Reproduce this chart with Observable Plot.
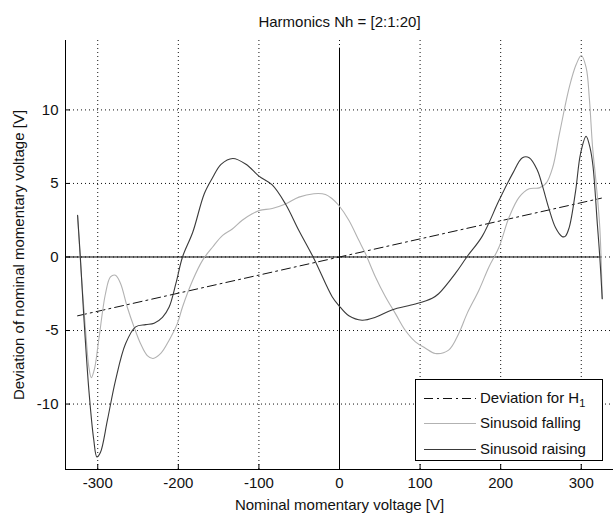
<!DOCTYPE html>
<html>
<head>
<meta charset="utf-8">
<script src="https://cdn.jsdelivr.net/npm/d3@7"></script>
<script src="https://cdn.jsdelivr.net/npm/@observablehq/plot@0.6"></script>
<style>
  body { margin: 0; background: #fff; }
  #wrap { position: relative; width: 613px; height: 515px; font-family: "Liberation Sans", Arial, sans-serif; color: #111; }
  #legend { position: absolute; left: 415px; top: 379px; width: 188px; height: 82px; border: 1px solid #000; background: #fff; box-sizing: border-box; }
  .row { position: absolute; left: 0; height: 20px; width: 186px; }
  .row svg { position: absolute; left: 7px; top: 0; }
  .row span { position: absolute; left: 64px; top: 1px; font-size: 15px; line-height: 18px; white-space: nowrap; }
  .row sub { font-size: 11px; vertical-align: -4px; line-height: 0; }
</style>
</head>
<body>
<div id="wrap"></div>
<script>
// ---- texts ----
const title = "Harmonics Nh = [2:1:20]";
const xLabel = "Nominal momentary voltage [V]";
const yLabel = "Deviation of nominal momentary voltage [V]";
const legendNames = ["Deviation for H", "Sinusoid falling", "Sinusoid raising"];
const legendSub = ["1", "", ""];

// ---- axes ----
const xTicks = [-300, -200, -100, 0, 100, 200, 300];
const yTicks = [-10, -5, 0, 5, 10];
const xDomain = [-340, 340];
const yDomain = [-14.45, 14.72];

// ---- reference lines ----
const zeroLineX = [-340, 325];   // horizontal zero line extent (V)
const zeroLineY = [-14.45, 14.2]; // vertical zero line extent (V)

// ---- series: deviation for H1 ----
const h1V   = [-325, 325];
const h1Dev = [-4.0, 4.0];

// ---- series: sinusoid falling ----
const fallingV = [-325, -320, -314.5, -311, -308, -304, -298.8, -290.4, -284.2, -278, -271.7, -263.4, -255, -246.8, -238.5, -231.4, -221.8, -211.4, -201, -194.8, -182.3, -170, -157.4, -145, -133, -120.7, -108.3, -99, -83.5, -67, -50.4, -31.8, -17.4, -9.1, -0.8, 11.6, 24, 32.2, 44.6, 57, 69.4, 81.8, 94.2, 106.6, 118.8, 135.4, 148, 158.3, 173, 185.4, 198, 210.4, 223, 235.4, 248, 256.3, 264.6, 273, 285.4, 293.8, 300, 306, 310, 314, 318.5, 323, 326];
const fallingDev = [2.8, -1.5, -5.4, -7.5, -8.2, -7.6, -5.66, -2.5, -1.36, -1.24, -1.8, -3.4, -4.75, -5.9, -6.7, -6.9, -6.56, -5.66, -4.5, -3.4, -1.6, -0.23, 0.68, 1.47, 1.9, 2.5, 2.94, 3.17, 3.3, 3.6, 4.07, 4.3, 4.25, 3.96, 3.5, 2.5, 1.13, 0.23, -1.36, -2.7, -3.85, -5.0, -5.77, -6.2, -6.56, -6.33, -5.2, -3.85, -2.26, -0.68, 0.68, 2.7, 4.07, 4.64, 4.7, 5.0, 6.1, 8.4, 11.6, 13.1, 13.7, 12.9, 10.8, 7.5, 5.0, 2.0, -2.83];

// ---- series: sinusoid raising ----
const raisingV = [-325, -321.6, -317.5, -311, -305, -301, -296.7, -288, -278, -265.5, -253, -240.5, -230, -219.7, -211.4, -203, -194.8, -182, -167.8, -157.4, -147, -132.4, -116, -100, -83.5, -67, -50.4, -31.8, -9.1, -0.8, 11.6, 28, 44.6, 65, 94, 115, 123, 144, 158, 177, 198, 214.6, 227, 235.4, 245.5, 252, 259.8, 268, 276, 280, 285, 293, 299, 306, 311, 314.5, 320, 323, 326];
const raisingDev = [2.83, 0, -3.85, -9.05, -12.4, -13.6, -13.3, -11.1, -8.4, -5.9, -4.75, -4.6, -4.5, -4.1, -3.4, -1.8, 0, 1.7, 4.3, 5.4, 6.3, 6.7, 6.3, 5.5, 4.9, 3.6, 1.8, -0.1, -2.7, -3.3, -4.0, -4.3, -4.1, -3.6, -3.2, -2.8, -2.5, -1.1, 0, 1.4, 3.85, 5.65, 6.75, 6.75, 5.9, 4.8, 3.3, 2.0, 1.4, 1.4, 2.0, 4.5, 7.0, 8.2, 7.4, 6.2, 2.2, 0, -2.83];

const toRows = (xs, ys) => xs.map((x, i) => ({x, y: ys[i]}));
const h1 = toRows(h1V, h1Dev);
const falling = toRows(fallingV, fallingDev);
const raising = toRows(raisingV, raisingDev);

const W = 613, H = 515;
const mL = 65, mR = 0, mT = 40, mB = 46;
const frameW = W - mL - mR, frameH = H - mT - mB;
const tickLen = 5;
const font = "Liberation Sans, Arial, sans-serif";
const dot = "1,3";
const dashDot = "9,4,2,4";

const chart = Plot.plot({
  width: W,
  height: H,
  marginLeft: mL,
  marginRight: mR,
  marginTop: mT,
  marginBottom: mB,
  style: {fontFamily: font, fontSize: "15px", color: "#111", background: "#fff", overflow: "visible"},
  x: {domain: xDomain},
  y: {domain: yDomain},
  marks: [
    // dotted grid
    Plot.ruleX(xTicks, {stroke: "#111", strokeDasharray: dot, strokeWidth: 1}),
    Plot.ruleY(yTicks, {stroke: "#111", strokeDasharray: dot, strokeWidth: 1}),
    // zero reference lines
    Plot.ruleY([0], {x1: zeroLineX[0], x2: zeroLineX[1], stroke: "#000", strokeWidth: 1}),
    Plot.ruleX([0], {y1: zeroLineY[0], y2: zeroLineY[1], stroke: "#000", strokeWidth: 1}),
    // series
    Plot.line(h1, {x: "x", y: "y", stroke: "#111", strokeWidth: 1, strokeDasharray: dashDot}),
    Plot.line(falling, {x: "x", y: "y", stroke: "#b2b2b2", strokeWidth: 1.1, curve: "catmull-rom"}),
    Plot.line(raising, {x: "x", y: "y", stroke: "#3a3a3a", strokeWidth: 1.1, curve: "catmull-rom"}),
    // axis lines
    Plot.ruleX([xDomain[0]], {stroke: "#000", strokeWidth: 1}),
    Plot.ruleY([yDomain[0]], {stroke: "#000", strokeWidth: 1}),
    // inward ticks
    Plot.ruleX(xTicks, {stroke: "#000", insetTop: frameH - tickLen}),
    Plot.ruleY(yTicks, {stroke: "#000", insetRight: frameW - tickLen}),
    // tick labels
    Plot.axisX({ticks: xTicks, tickSize: 0, tickPadding: 8, tickFormat: d => String(d), label: null, fontSize: 15, fill: "#111"}),
    Plot.axisY({ticks: yTicks, tickSize: 0, tickPadding: 7, tickFormat: d => String(d), label: null, fontSize: 15, fill: "#111"}),
    // title and axis labels
    Plot.text([title], {frameAnchor: "top", dy: -24, fontSize: 15, fill: "#111"}),
    Plot.text([xLabel], {frameAnchor: "bottom", dy: 40, fontSize: 15, fill: "#111"}),
    Plot.text([yLabel], {frameAnchor: "left", dx: -46, rotate: -90, textAnchor: "middle", fontSize: 15, fill: "#111"})
  ]
});

const wrap = document.getElementById("wrap");
wrap.appendChild(chart);

// legend overlay
const legend = document.createElement("div");
legend.id = "legend";
const styles = [
  {stroke: "#111", dash: dashDot},
  {stroke: "#b2b2b2", dash: null},
  {stroke: "#3a3a3a", dash: null}
];
const rowTops = [8, 33, 59];
legendNames.forEach((name, i) => {
  const row = document.createElement("div");
  row.className = "row";
  row.style.top = rowTops[i] + "px";
  const ns = "http://www.w3.org/2000/svg";
  const s = document.createElementNS(ns, "svg");
  s.setAttribute("width", 53); s.setAttribute("height", 20);
  const l = document.createElementNS(ns, "line");
  l.setAttribute("x1", 1); l.setAttribute("x2", 53);
  l.setAttribute("y1", 10.5); l.setAttribute("y2", 10.5);
  l.setAttribute("stroke", styles[i].stroke);
  l.setAttribute("stroke-width", 1.1);
  if (styles[i].dash) l.setAttribute("stroke-dasharray", styles[i].dash);
  s.appendChild(l);
  row.appendChild(s);
  const t = document.createElement("span");
  t.textContent = name;
  if (legendSub[i]) {
    const sub = document.createElement("sub");
    sub.textContent = legendSub[i];
    t.appendChild(sub);
  }
  row.appendChild(t);
  legend.appendChild(row);
});
wrap.appendChild(legend);
</script>
</body>
</html>
